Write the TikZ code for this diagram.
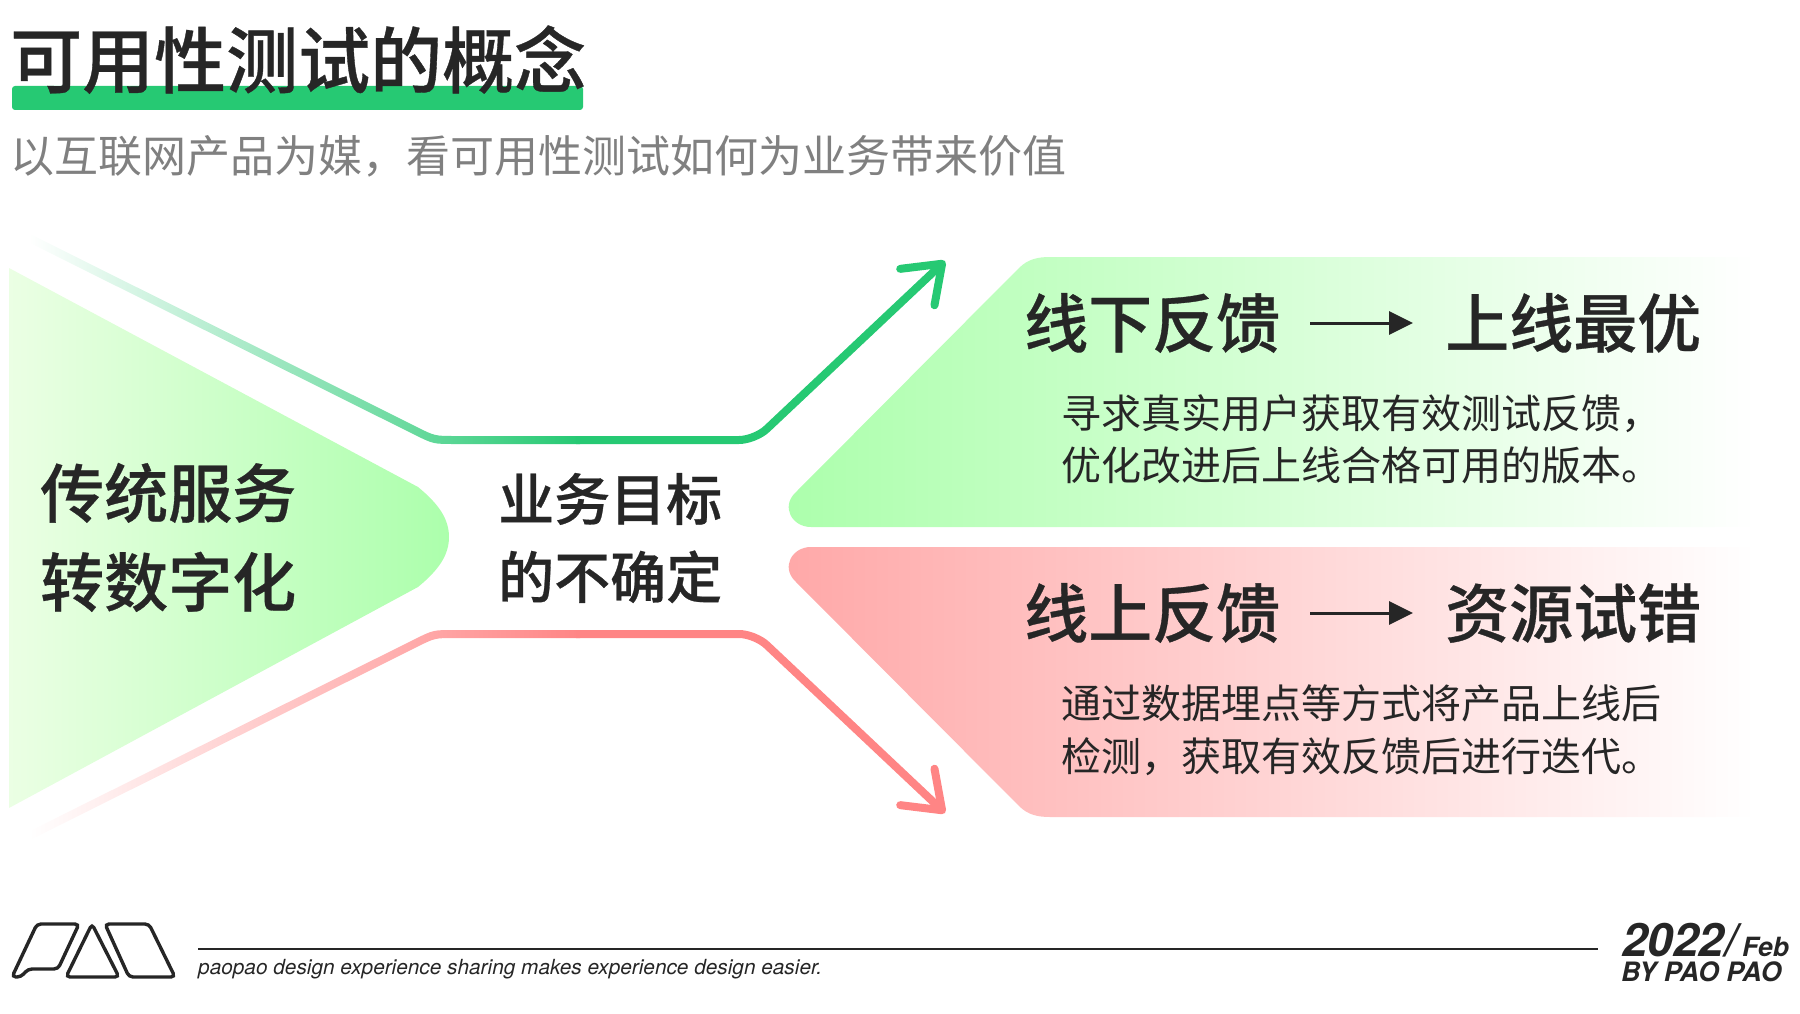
\documentclass[tikz,border=0pt]{standalone}
\usepackage{fontspec}
\setmainfont{Noto Sans CJK SC}
\newfontfamily\cjkmid[FakeBold=0.5]{Noto Sans CJK SC Medium}
\newfontfamily\heros{TeX Gyre Heros}
\usetikzlibrary{arrows.meta}
\definecolor{inkdark}{RGB}{38,38,38}
\definecolor{subgray}{RGB}{128,128,128}
\definecolor{linegreen}{RGB}{38,201,115}
\definecolor{linered}{RGB}{255,133,133}
\definecolor{panelgreen}{RGB}{172,255,172}
\definecolor{panelred}{RGB}{255,168,168}
\definecolor{palegreen}{RGB}{235,255,228}

\tikzset{txt/.style = {inner sep=0, anchor=west, text=inkdark, text height={.88*#1pt}, text depth={.12*#1pt},
                       font=\fontsize{#1}{#1}\selectfont},
         bigtxt/.style = {txt=#1, font=\cjkmid\fontsize{#1}{#1}\selectfont},
         foot/.style = {inner sep=0, anchor=base west, text=inkdark, font=\heros\fontsize{#1}{#1}\selectfont\bfseries\itshape},
         flow/.style = {line width=8pt, rounded corners=16pt,
                        -{Straight Barb[length=34pt,width=50pt,round]}},
         goesto/.style = {line width=3pt, inkdark, shorten <=30pt, shorten >=32pt,
                          -{Triangle[length=24pt,width=23pt]}},
         logo/.style = {line width=3.4pt, inkdark, rounded corners=4pt}
        }

\begin{document}
\begin{tikzpicture}[x=1pt,y=-1pt]
\useasboundingbox (0,0) rectangle (1800,1014);
% heading
\fill[linegreen, rounded corners=3pt] (12,86) rectangle (583,110);
\node[bigtxt=72] at (10,60) (title) {可用性测试的概念};
\node[txt=44, text=subgray] at (10,156) (subtitle) {以互联网产品为媒，看可用性测试如何为业务带来价值};
% left block
\shade[left color=palegreen, right color=panelgreen] (9,268) -- (418,487)
  .. controls (440,505) and (449,520) .. (449,537)
  .. controls (449,554) and (440,569) .. (418,587) -- (9,808) -- cycle;
\node[bigtxt=64] at (40,493) (tradA) {传统服务};
\node[bigtxt=64] at (40,582) (tradB) {转数字化};
% middle
\node[bigtxt=56] at (498,499) (goalA) {业务目标};
\node[bigtxt=56] at (498,577) (goalB) {的不确定};
% green line
\coordinate (upJoin) at (576,440);
\coordinate (upKnee) at (755,440);
\coordinate (upTip) at (945,261);
\shade[left color=white, right color=linegreen] (29,233.5) -- (416.9,427)
  .. controls (434.9,436) .. (455,436) -- (580,436) -- (580,444) -- (455,444)
  .. controls (433.3,444) .. (415.3,435.1) -- (29,242.5) -- cycle;
\draw[flow, linegreen] (upJoin) -- (upKnee) -- (upTip);
% red line
\coordinate (downJoin) at (576,634);
\coordinate (downKnee) at (755,634);
\coordinate (downTip) at (945,813);
\shade[left color=white, right color=linered] (29,840.5) -- (416.9,647)
  .. controls (434.9,638) .. (455,638) -- (580,638) -- (580,630) -- (455,630)
  .. controls (433.3,630) .. (415.3,638.9) -- (29,831.5) -- cycle;
\draw[flow, linered] (downJoin) -- (downKnee) -- (downTip);
% green panel
\shade[left color=panelgreen, right color=white] (1050,257) -- (1755,257) -- (1755,527) -- (811,527)
  .. controls (792,527) and (781,507) .. (795,493) -- (1019,268)
  .. controls (1028,259) and (1038,257) .. (1050,257) -- cycle;
\node[bigtxt=64] at (1024,323) (offA) {线下反馈};
\node[bigtxt=64] at (1445,323) (offB) {上线最优};
\draw[goesto] (offA) -- (offB);
\node[txt=40] at (1061.5,413) (offC) {寻求真实用户获取有效测试反馈，};
\node[txt=40] at (1061.5,465) (offD) {优化改进后上线合格可用的版本。};
% red panel
\shade[left color=panelred, right color=white] (1050,817) -- (1755,817) -- (1755,547) -- (811,547)
  .. controls (792,547) and (781,567) .. (795,581) -- (1019,806)
  .. controls (1028,815) and (1038,817) .. (1050,817) -- cycle;
\node[bigtxt=64] at (1024,613) (onA) {线上反馈};
\node[bigtxt=64] at (1445,613) (onB) {资源试错};
\draw[goesto] (onA) -- (onB);
\node[txt=40] at (1061.5,703) (onC) {通过数据埋点等方式将产品上线后};
\node[txt=40] at (1061.5,756) (onD) {检测，获取有效反馈后进行迭代。};
% footer
\draw[logo] (37,924) -- (79,924) -- (58,969) -- (28,969) -- (21,977) -- (12,977) -- cycle;
\draw[logo] (92,924) -- (119,977) -- (66,977) -- cycle;
\draw[logo] (105,924) -- (149,924) -- (175,977) -- (129,977) -- cycle;
\coordinate (ruleA) at (198,949);
\coordinate (ruleB) at (1598,949);
\draw[line width=2.7pt, inkdark] (ruleA) -- (ruleB);
\node[inner sep=0, anchor=base west, text=inkdark, font=\heros\fontsize{20.8}{21}\selectfont\itshape] at (198,974) (motto) {paopao design experience sharing makes experience design easier.};
\node[foot=46] at (1622,956) (year) {2022/};
\node[foot=26.5] at (1742,956) (month) {Feb};
\node[foot=26.7] at (1621,981) (author) {BY PAO PAO};
\end{tikzpicture}
\end{document}
